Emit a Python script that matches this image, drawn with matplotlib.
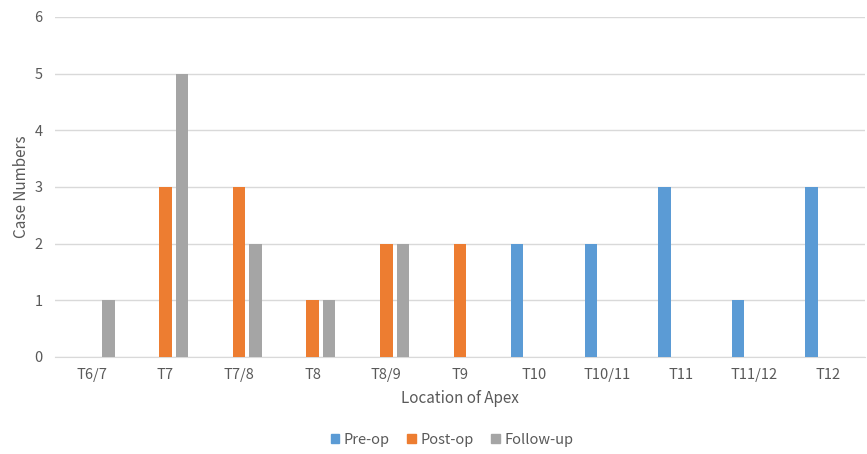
import numpy as np
import matplotlib.pyplot as plt
from matplotlib.patches import Patch

plt.rcParams['font.family'] = ['Noto Sans CJK SC', 'DejaVu Sans']

categories = ['T6/7', 'T7', 'T7/8', 'T8', 'T8/9', 'T9', 'T10', 'T10/11', 'T11', 'T11/12', 'T12']
pre_op = [0, 0, 0, 0, 0, 0, 2, 2, 3, 1, 3]
post_op = [0, 3, 3, 1, 2, 2, 0, 0, 0, 0, 0]
follow_up = [1, 5, 2, 1, 2, 0, 0, 0, 0, 0, 0]

series = [('Pre-op', pre_op, '#5B9BD5'),
          ('Post-op', post_op, '#ED7D31'),
          ('Follow-up', follow_up, '#A5A5A5')]

text_color = '#595959'
grid_color = '#D9D9D9'

fig = plt.figure(figsize=(8.67, 4.54), dpi=100)
ax = fig.add_axes([55 / 867, 1 - 357 / 454, 810 / 867, 340 / 454])

x = np.arange(len(categories))
width = 0.17
offset = 0.224
for i, (name, vals, color) in enumerate(series):
    ax.bar(x + (i - 1) * offset, vals, width, color=color, label=name, zorder=3)

ax.set_xlim(-0.5, len(categories) - 0.5)
ax.set_ylim(0, 6)
ax.set_yticks(range(7))
ax.set_xticks(x)
ax.set_xticklabels(categories)
ax.grid(axis='y', color=grid_color, linewidth=1, zorder=0)
for s in ['top', 'right', 'left']:
    ax.spines[s].set_visible(False)
ax.spines['bottom'].set_color(grid_color)
ax.tick_params(length=0, colors=text_color, labelsize=10.5, pad=8)
ax.tick_params(axis='y', pad=9)

ax.set_xlabel('Location of Apex', color=text_color, fontsize=11, labelpad=6)
ax.set_ylabel('Case Numbers', color=text_color, fontsize=11, labelpad=3)

handles = [Patch(color=c, label=n) for n, _, c in series]
fig.legend(handles=handles, loc='center', bbox_to_anchor=(452 / 867, 1 - 440 / 454),
           ncol=3, frameon=False, fontsize=10.5, handlelength=0.6, handleheight=0.6,
           handletextpad=0.3, columnspacing=1.2, labelcolor=text_color)

fig.savefig('out.png', dpi=100, facecolor='white')
